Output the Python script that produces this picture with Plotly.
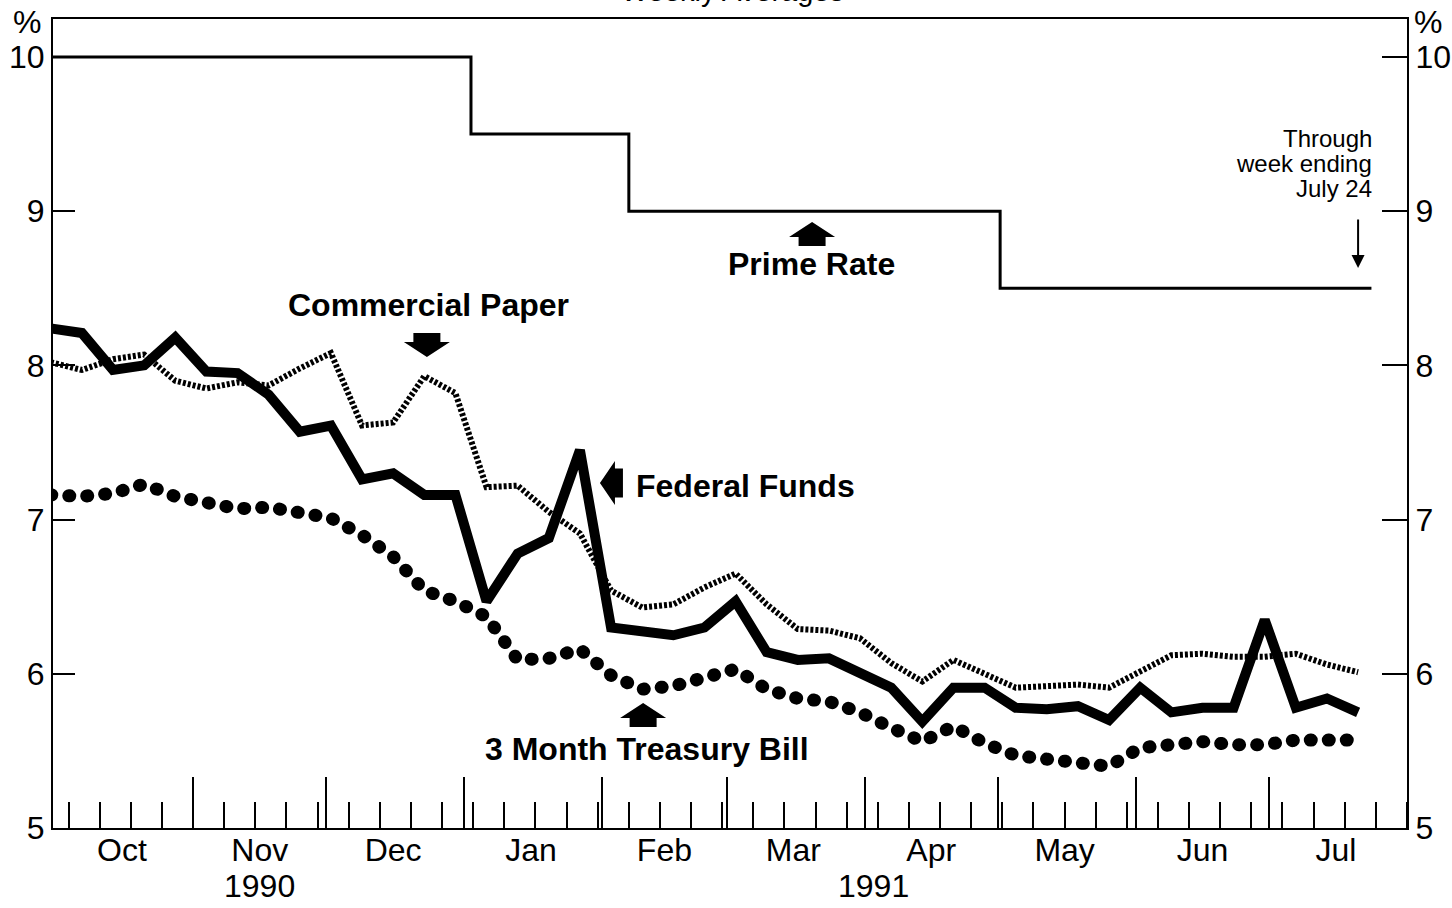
import pandas as pd
import plotly.graph_objects as go

# ---- data: weekly averages, weeks ending Wednesday, Oct 3 1990 .. Jul 24 1991 ----
week_ending = pd.date_range(end="1991-07-24", periods=43, freq="7D")
week_mid = week_ending - pd.Timedelta(days=3)   # plotted mid-week

fed_funds = [8.24, 8.21, 7.97, 8.00, 8.18, 7.96, 7.95, 7.81, 7.57, 7.61,
             7.26, 7.30, 7.16, 7.16, 6.47, 6.78, 6.88, 7.45, 6.30, 6.28,
             6.25, 6.30, 6.47, 6.14, 6.09, 6.10, 6.00, 5.91, 5.69, 5.91,
             5.91, 5.78, 5.77, 5.79, 5.70, 5.91, 5.75, 5.78, 5.78, 6.35,
             5.78, 5.84, 5.75]
commercial_paper = [8.02, 7.97, 8.04, 8.07, 7.90, 7.85, 7.89, 7.87, 7.98, 8.08,
                    7.61, 7.63, 7.93, 7.82, 7.21, 7.22, 7.05, 6.91, 6.54, 6.43,
                    6.45, 6.56, 6.65, 6.45, 6.29, 6.28, 6.23, 6.07, 5.95, 6.09,
                    6.00, 5.91, 5.92, 5.93, 5.91, 6.02, 6.12, 6.13, 6.11, 6.11,
                    6.13, 6.06, 6.01]
tbill_3m = [7.16, 7.15, 7.17, 7.23, 7.15, 7.10, 7.07, 7.08, 7.04, 7.01,
            6.90, 6.76, 6.54, 6.47, 6.37, 6.09, 6.10, 6.16, 5.99, 5.90,
            5.92, 5.98, 6.03, 5.90, 5.84, 5.82, 5.75, 5.65, 5.56, 5.66,
            5.55, 5.47, 5.45, 5.42, 5.40, 5.52, 5.55, 5.56, 5.54, 5.54,
            5.57, 5.57, 5.57]

prime_dates = ["1990-09-30", "1991-01-02 12:00", "1991-02-07", "1991-05-01 12:00", "1991-07-24"]
prime_rate = [10.0, 9.5, 9.0, 8.5, 8.5]

month_mid = ["1990-10-16", "1990-11-16", "1990-12-16", "1991-01-16", "1991-02-15",
             "1991-03-16", "1991-04-16", "1991-05-16", "1991-06-16", "1991-07-16"]
month_names = ["Oct", "Nov", "Dec", "Jan", "Feb", "Mar", "Apr", "May", "Jun", "Jul"]
month_starts = pd.date_range("1990-11-01", "1991-07-01", freq="MS")
years = ["1990", "1991"]
year_pos = ["1990-11-16", "1991-04-03"]
y_ticks = [5, 6, 7, 8, 9, 10]

X_RANGE = ["1990-09-30 12:00", "1991-08-01"]
Y_RANGE = [5, 10.246]
FONT = "Liberation Sans, Arial, Helvetica, sans-serif"

fig = go.Figure()

fig.add_trace(go.Scatter(
    x=week_mid, y=commercial_paper, mode="lines", name="Commercial Paper",
    line=dict(color="black", width=6, dash="3px,2px"),
))
fig.add_trace(go.Scatter(
    x=week_mid, y=tbill_3m, mode="lines", name="3 Month Treasury Bill",
    line=dict(color="black", width=13, dash="1px,17px"),
))
fig.add_trace(go.Scatter(
    x=week_mid, y=fed_funds, mode="lines", name="Federal Funds",
    line=dict(color="black", width=10),
))
fig.add_trace(go.Scatter(
    x=prime_dates, y=prime_rate, mode="lines", name="Prime Rate",
    line=dict(color="black", width=3, shape="hv"),
    xaxis="x2", yaxis="y2",
))

# block arrows (pixel-sized paths anchored at data positions, y up)
ARROW_UP = "M0,0 L23,-15 L13.5,-15 L13.5,-24 L-13.5,-24 L-13.5,-15 L-23,-15 Z"
ARROW_DOWN = "M0,0 L23,15 L13.5,15 L13.5,24 L-13.5,24 L-13.5,15 L-23,15 Z"
ARROW_LEFT = "M0,0 L15,22 L15,14.5 L23,14.5 L23,-14.5 L15,-14.5 L15,-22 Z"
arrows = [
    (ARROW_UP, "1991-03-20 05:00", 8.93),
    (ARROW_DOWN, "1990-12-23 14:00", 8.054),
    (ARROW_LEFT, "1991-01-31 12:00", 7.237),
    (ARROW_UP, "1991-02-10 05:00", 5.811),
]
for path, xa, ya in arrows:
    fig.add_shape(type="path", path=path, xref="x", yref="y",
                  xsizemode="pixel", ysizemode="pixel", xanchor=xa, yanchor=ya,
                  fillcolor="black", line=dict(width=0))

ann = []
lab = dict(size=32, color="black", family=FONT)
ann.append(dict(x="1990-12-24", y=8.39, text="<b>Commercial Paper</b>", showarrow=False, font=lab))
ann.append(dict(x="1991-03-20", y=8.66, text="<b>Prime Rate</b>", showarrow=False, font=lab))
ann.append(dict(x="1991-02-08 05:00", y=7.22, text="<b>Federal Funds</b>", showarrow=False,
                xanchor="left", font=lab))
ann.append(dict(x="1991-02-11", y=5.51, text="<b>3 Month Treasury Bill</b>", showarrow=False, font=lab))

for txt, yp in zip(["Through", "week ending", "July 24"], [0.8529, 0.8220, 0.7911]):
    ann.append(dict(xref="paper", yref="paper", x=0.9756, y=yp, text=txt, showarrow=False,
                    xanchor="right", yanchor="middle", font=dict(size=24, color="black", family=FONT)))
# thin arrow to last week
ann.append(dict(x=week_mid[-1], y=8.632, xref="x", yref="y", text="", showarrow=True,
                ax=0, ay=-50, arrowhead=2, arrowsize=1.3, arrowwidth=2, arrowcolor="black"))

for yr, xp in zip(years, year_pos):
    ann.append(dict(x=xp, xref="x", yref="paper", y=-0.0717, text=yr, showarrow=False,
                    xanchor="center", yanchor="middle", font=dict(size=32, color="black", family=FONT)))

for xp in [-0.0192, 1.0155]:
    ann.append(dict(xref="paper", yref="paper", x=xp, y=0.9963, text="%", showarrow=False,
                    xanchor="center", yanchor="middle", font=dict(size=32, color="black", family=FONT)))

ann.append(dict(xref="paper", yref="paper", x=0.502, y=1, yshift=10, yanchor="bottom",
                xanchor="center", text="Weekly Averages", showarrow=False,
                font=dict(size=29, color="black", family=FONT)))

fig.update_layout(
    width=1452, height=908,
    margin=dict(l=53, r=45, t=19, b=80, autoexpand=False),
    paper_bgcolor="white", plot_bgcolor="white",
    showlegend=False,
    font=dict(family=FONT, size=32, color="black"),
    annotations=ann,
    xaxis=dict(
        type="date", range=X_RANGE, tickmode="array", tickvals=month_mid, ticktext=month_names,
        ticks="", showgrid=False, zeroline=False, ticklabelstandoff=-7, automargin=False,
        showline=True, linewidth=2, linecolor="black", mirror=True,
        tickfont=dict(size=32),
        minor=dict(ticks="inside", ticklen=26, tickwidth=1.5, tickcolor="black",
                   tick0="1990-10-04", dtick=7 * 86400000, showgrid=False),
    ),
    xaxis2=dict(
        type="date", range=X_RANGE, overlaying="x", anchor="y2", side="bottom",
        tickmode="array", tickvals=month_starts, ticks="inside", ticklen=51,
        tickwidth=1.5, tickcolor="black", showticklabels=False, automargin=False,
        showgrid=False, zeroline=False, showline=False,
    ),
    yaxis=dict(
        range=Y_RANGE, tickmode="array", tickvals=y_ticks, ticks="inside", ticklen=22,
        tickwidth=2, tickcolor="black", showgrid=False, zeroline=False, automargin=False,
        showline=True, linewidth=2, linecolor="black", tickfont=dict(size=32),
    ),
    yaxis2=dict(
        range=Y_RANGE, overlaying="y", side="right", anchor="x2",
        tickmode="array", tickvals=y_ticks, ticks="inside", ticklen=25,
        tickwidth=2, tickcolor="black", showgrid=False, zeroline=False, automargin=False,
        showline=True, linewidth=2, linecolor="black", tickfont=dict(size=32),
    ),
)

# page flush to the window; round caps so the T-bill dash pattern shows as dots
post = """
document.body.style.margin = '0';
document.body.style.overflow = 'hidden';
document.querySelectorAll('path.js-line').forEach(function(p){
  if ((p.style.strokeDasharray || '').indexOf('17') !== -1) { p.style.strokeLinecap = 'round'; }
});
"""
fig.write_html("out.html", post_script=post, config={"displayModeBar": False})
